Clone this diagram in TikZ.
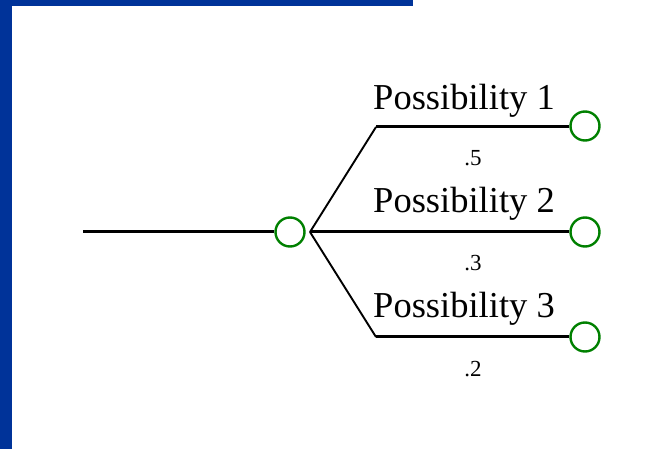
\documentclass[tikz,border=0pt]{standalone}
\usepackage{fontspec}
\setmainfont{Liberation Serif}
\definecolor{slideblue}{RGB}{0,51,153}
\definecolor{nodegreen}{RGB}{0,128,0}
\tikzset{
  chance/.style={draw=nodegreen, circle, line width=2.4pt, minimum size=29pt, inner sep=0pt},
  branch/.style={line width=3pt},
  fork/.style={line width=1.9pt},
  plabel/.style={anchor=base, inner sep=0pt, font=\fontsize{36.5}{40}\selectfont},
  prob/.style={anchor=base, inner sep=0pt, font=\fontsize{23}{25}\selectfont},
}

\begin{document}
\begin{tikzpicture}[x=1pt, y=-1pt]
    \useasboundingbox (0,0) rectangle (657,449);

    % 边框
    \fill[slideblue] (0,0) rectangle (12,449);
    \fill[slideblue] (0,0) rectangle (413,6);

    % 机会节点
    \coordinate (start) at (83,232);
    \node[chance] (chance) at (290,232) {};
    \coordinate (fork) at (310,232);
    \coordinate (elbow1) at (376,127);
    \coordinate (elbow3) at (376,337);

    \node[chance] (end1) at (585,126) {};
    \node[chance] (end2) at (585,232) {};
    \node[chance] (end3) at (585,337) {};

    \draw[branch] (start) -- (chance.west);
    \draw[fork] (fork) -- (elbow1);
    \draw[fork] (fork) -- (elbow3);
    \draw[branch] (elbow1) -- (end1.west |- elbow1);
    \draw[branch] (fork) -- (end2.west);
    \draw[branch] (elbow3) -- (end3.west |- elbow3);

    % 标签
    \node[plabel] (lab1) at (464,110) {Possibility 1};
    \node[plabel] (lab2) at (464,213) {Possibility 2};
    \node[plabel] (lab3) at (464,318) {Possibility 3};

    \node[prob] (p1) at (473,166) {.5};
    \node[prob] (p2) at (473,271) {.3};
    \node[prob] (p3) at (473,377) {.2};
\end{tikzpicture}
\end{document}
